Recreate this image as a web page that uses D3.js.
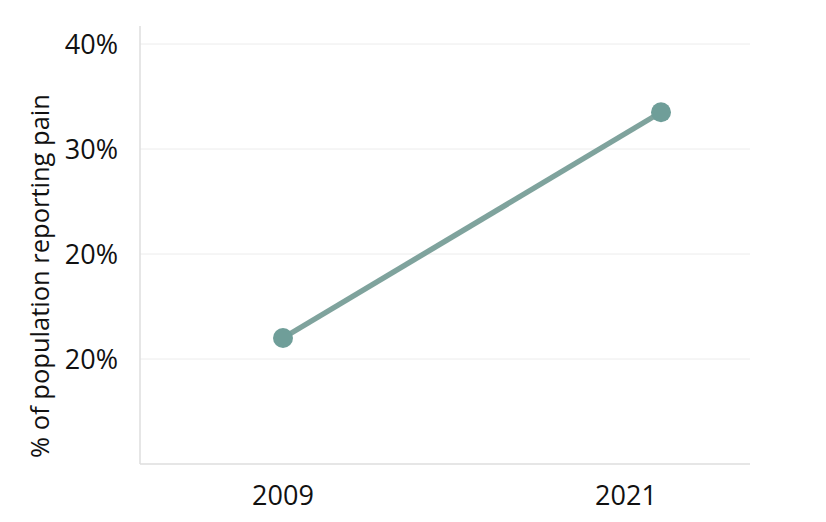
<!DOCTYPE html>
<html>
<head>
<meta charset="utf-8">
<script src="https://cdn.jsdelivr.net/npm/d3@7"></script>
<style>
  body { margin: 0; background: #fff; }
  text { font-family: "Open Sans", sans-serif; fill: #111; }
</style>
</head>
<body>
<svg id="chart" width="826" height="522"></svg>
<script>
// data
const years = ["2009", "2021"];
const painShare = [12.0, 33.5];
const tickValues = [10, 20, 30, 40];
const tickLabels = ["20%", "20%", "30%", "40%"];

const svg = d3.select("#chart");
const margin = { top: 26, left: 140, right: 76, bottom: 58 };
const width = +svg.attr("width");
const height = +svg.attr("height");
const plotBottom = height - margin.bottom;

const yScale = d3.scaleLinear()
  .domain([0, 40])
  .range([plotBottom, 44]);

// points and labels don't sit on the same x in the original
const xLabel = d3.scalePoint().domain(years).range([283, 626]);
const xPoint = d3.scalePoint().domain(years).range([283, 661]);

// gridlines
svg.append("g")
  .selectAll("line")
  .data(tickValues)
  .enter()
  .append("line")
  .attr("x1", margin.left)
  .attr("x2", width - margin.right)
  .attr("y1", d => yScale(d))
  .attr("y2", d => yScale(d))
  .attr("stroke", "#ececec")
  .attr("stroke-width", 1);

// axis lines
svg.append("line")
  .attr("x1", margin.left).attr("x2", margin.left)
  .attr("y1", margin.top).attr("y2", plotBottom)
  .attr("stroke", "#dedede").attr("stroke-width", 1.5);
svg.append("line")
  .attr("x1", margin.left).attr("x2", width - margin.right)
  .attr("y1", plotBottom).attr("y2", plotBottom)
  .attr("stroke", "#dedede").attr("stroke-width", 1.5);

// y tick labels
svg.append("g")
  .selectAll("text")
  .data(tickValues)
  .enter()
  .append("text")
  .attr("x", 118)
  .attr("y", d => yScale(d))
  .attr("dy", "0.36em")
  .attr("text-anchor", "end")
  .style("font-size", "27px")
  .text((d, i) => tickLabels[i]);

// x labels
svg.append("g")
  .selectAll("text")
  .data(years)
  .enter()
  .append("text")
  .attr("x", d => xLabel(d))
  .attr("y", 505)
  .attr("text-anchor", "middle")
  .style("font-size", "27px")
  .text(d => d);

// y title
svg.append("text")
  .attr("transform", "translate(49, 276) rotate(-90)")
  .attr("text-anchor", "middle")
  .style("font-size", "25.5px")
  .text("% of population reporting pain");

// line + points
const rows = years.map((y, i) => ({ year: y, value: painShare[i] }));
const line = d3.line()
  .x(d => xPoint(d.year))
  .y(d => yScale(d.value));

svg.append("path")
  .datum(rows)
  .attr("d", line)
  .attr("fill", "none")
  .attr("stroke", "#7fa39d")
  .attr("stroke-width", 5.5);

svg.selectAll("circle.pt")
  .data(rows)
  .enter()
  .append("circle")
  .attr("class", "pt")
  .attr("cx", d => xPoint(d.year))
  .attr("cy", d => yScale(d.value))
  .attr("r", 10)
  .attr("fill", "#6f9e99");
</script>
</body>
</html>
